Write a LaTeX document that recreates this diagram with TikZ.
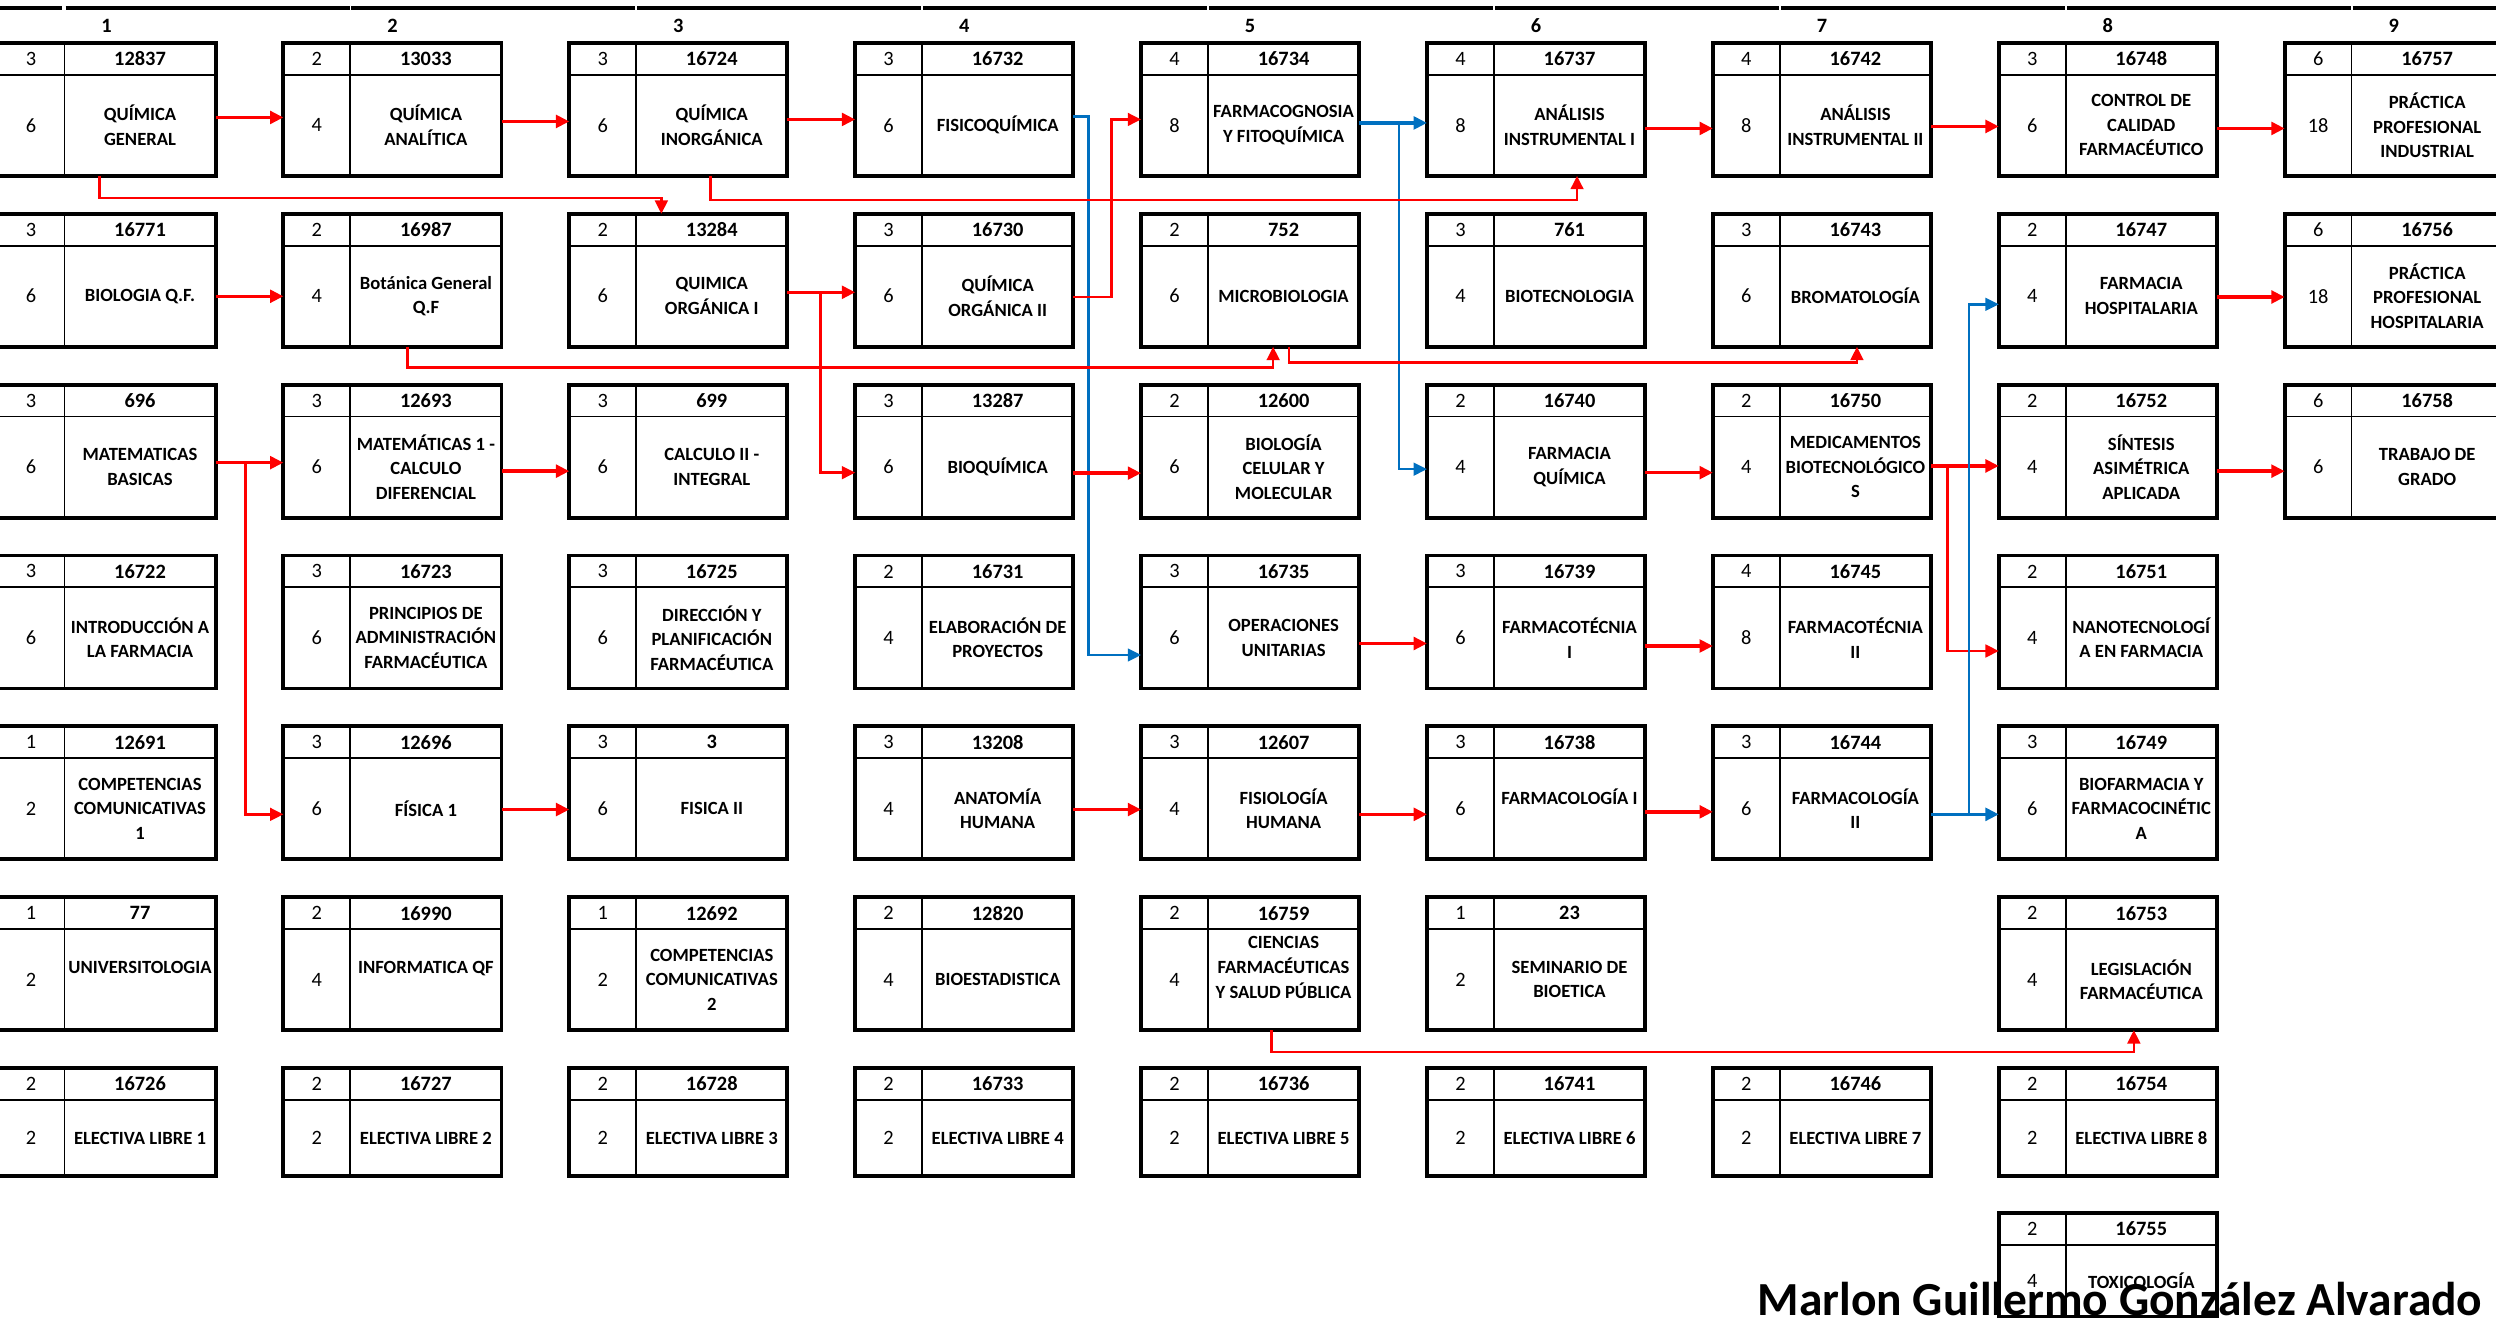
\documentclass[tikz,border=0pt]{standalone}
\usepackage{fontspec}
\setmainfont{Carlito}
\usetikzlibrary{arrows.meta}
\definecolor{arrowred}{RGB}{255,0,0}
\definecolor{arrowblue}{RGB}{0,112,192}

\begin{document}
\begin{tikzpicture}[
    cbox/.style={draw, line width=1.1pt, anchor=north west, minimum width=2.181cm, inner sep=0pt, outer sep=0pt},
    cellrule/.style={line width=0.5pt},
    toprule/.style={line width=1pt},
    numtext/.style={font=\fontsize{5.8}{7}\selectfont, inner sep=0pt},
    codetext/.style={font=\bfseries\fontsize{5.8}{7}\selectfont, inner sep=0pt},
    titletext/.style={font=\bfseries\fontsize{5.3}{7}\selectfont, align=center, inner sep=0pt},
    collabel/.style={font=\bfseries\fontsize{5.8}{7}\selectfont, inner sep=0pt},
    redarr/.style={draw=arrowred, line width=0.95pt, -{Triangle[length=3.8pt,width=3.6pt]}},
    redroute/.style={redarr, line width=0.75pt},
    bluearr/.style={draw=arrowblue, line width=0.95pt, -{Triangle[length=3.8pt,width=3.6pt]}},
    blueroute/.style={bluearr, line width=0.7pt}
  ]
  \useasboundingbox (0,0) rectangle (24.96,-13.40);

  % Grid measures (cm)
  \pgfmathsetmacro{\colGap}{2.859}
  \pgfmathsetmacro{\rowGap}{1.7085}
  \pgfmathsetmacro{\boxW}{2.181}
  \pgfmathsetmacro{\leftW}{0.669}
  \pgfmathsetmacro{\headH}{0.318}
  \pgfmathsetmacro{\boxH}{1.329}

  % One course box: credits | code on top, hours | title below
  \newcommand{\course}[7]{% name, column, row, credits, code, hours, title
    \pgfmathsetmacro{\posX}{-0.025 + (#2-1)*\colGap}
    \pgfmathsetmacro{\posY}{-0.43 - (#3-1)*\rowGap}
    \node[cbox, minimum height=\boxH cm] (#1) at (\posX,\posY) {};
    \draw[cellrule] (\posX,\posY-\headH) -- ++(\boxW,0);
    \draw[cellrule] (\posX+\leftW,\posY) -- ++(0,-\boxH);
    \node[numtext] (#1-cr) at (\posX+\leftW/2,\posY-\headH/2) {#4};
    \node[codetext] (#1-code) at (\posX+\leftW/2+\boxW/2,\posY-\headH/2) {#5};
    \node[numtext] (#1-hr) at (\posX+\leftW/2,\posY-\headH/2-\boxH/2) {#6};
    \node[titletext] (#1-title) at (\posX+\leftW/2+\boxW/2,\posY-\headH/2-\boxH/2) {#7};
  }

  % Top rule and semester numbers
  \draw[toprule] (0,-0.08) -- (0.62,-0.08);
  \foreach \k in {0,...,8} {
    \draw[toprule] (0.655+\k*\colGap,-0.08) -- ++(2.84,0);
    \pgfmathtruncatemacro{\sem}{\k+1}
    \node[collabel] (sem-\sem) at (-0.025+\k*\colGap+\boxW/2,-0.255) {\sem};
  }

  % Row 1
  \course{qgen}{1}{1}{3}{12837}{6}{QUÍMICA\\GENERAL}
  \course{qanal}{2}{1}{2}{13033}{4}{QUÍMICA\\ANALÍTICA}
  \course{qinorg}{3}{1}{3}{16724}{6}{QUÍMICA\\INORGÁNICA}
  \course{fisico}{4}{1}{3}{16732}{6}{FISICOQUÍMICA}
  \course{farmacog}{5}{1}{4}{16734}{8}{FARMACOGNOSIA\\Y FITOQUÍMICA}
  \course{analisisi}{6}{1}{4}{16737}{8}{ANÁLISIS\\INSTRUMENTAL I}
  \course{analisisii}{7}{1}{4}{16742}{8}{ANÁLISIS\\INSTRUMENTAL II}
  \course{control}{8}{1}{3}{16748}{6}{CONTROL DE\\CALIDAD\\FARMACÉUTICO}
  \course{practind}{9}{1}{6}{16757}{18}{PRÁCTICA\\PROFESIONAL\\INDUSTRIAL}

  % Row 2
  \course{bioqf}{1}{2}{3}{16771}{6}{BIOLOGIA Q.F.}
  \course{botanica}{2}{2}{2}{16987}{4}{Botánica General\\Q.F}
  \course{qorgi}{3}{2}{2}{13284}{6}{QUIMICA\\ORGÁNICA I}
  \course{qorgii}{4}{2}{3}{16730}{6}{QUÍMICA\\ORGÁNICA II}
  \course{micro}{5}{2}{2}{752}{6}{MICROBIOLOGIA}
  \course{biotec}{6}{2}{3}{761}{4}{BIOTECNOLOGIA}
  \course{bromat}{7}{2}{3}{16743}{6}{BROMATOLOGÍA}
  \course{farmhosp}{8}{2}{2}{16747}{4}{FARMACIA\\HOSPITALARIA}
  \course{practhosp}{9}{2}{6}{16756}{18}{PRÁCTICA\\PROFESIONAL\\HOSPITALARIA}

  % Row 3
  \course{matbas}{1}{3}{3}{696}{6}{MATEMATICAS\\BASICAS}
  \course{mat1}{2}{3}{3}{12693}{6}{MATEMÁTICAS 1 -\\CALCULO\\DIFERENCIAL}
  \course{calc2}{3}{3}{3}{699}{6}{CALCULO II -\\INTEGRAL}
  \course{bioquim}{4}{3}{3}{13287}{6}{BIOQUÍMICA}
  \course{biocel}{5}{3}{2}{12600}{6}{BIOLOGÍA\\CELULAR Y\\MOLECULAR}
  \course{farmqui}{6}{3}{2}{16740}{4}{FARMACIA\\QUÍMICA}
  \course{medbio}{7}{3}{2}{16750}{4}{MEDICAMENTOS\\BIOTECNOLÓGICO\\S}
  \course{sintesis}{8}{3}{2}{16752}{4}{SÍNTESIS\\ASIMÉTRICA\\APLICADA}
  \course{trabajo}{9}{3}{6}{16758}{6}{TRABAJO DE\\GRADO}

  % Row 4
  \course{intro}{1}{4}{3}{16722}{6}{INTRODUCCIÓN A\\LA FARMACIA}
  \course{princadm}{2}{4}{3}{16723}{6}{PRINCIPIOS DE\\ADMINISTRACIÓN\\FARMACÉUTICA}
  \course{direccion}{3}{4}{3}{16725}{6}{DIRECCIÓN Y\\PLANIFICACIÓN\\FARMACÉUTICA}
  \course{elabproy}{4}{4}{2}{16731}{4}{ELABORACIÓN DE\\PROYECTOS}
  \course{opunit}{5}{4}{3}{16735}{6}{OPERACIONES\\UNITARIAS}
  \course{farmteci}{6}{4}{3}{16739}{6}{FARMACOTÉCNIA\\I}
  \course{farmtecii}{7}{4}{4}{16745}{8}{FARMACOTÉCNIA\\II}
  \course{nanotec}{8}{4}{2}{16751}{4}{NANOTECNOLOGÍ\\A EN FARMACIA}

  % Row 5
  \course{compi}{1}{5}{1}{12691}{2}{COMPETENCIAS\\COMUNICATIVAS\\1}
  \course{fisicai}{2}{5}{3}{12696}{6}{FÍSICA 1}
  \course{fisicaii}{3}{5}{3}{3}{6}{FISICA II}
  \course{anatomia}{4}{5}{3}{13208}{4}{ANATOMÍA\\HUMANA}
  \course{fisiologia}{5}{5}{3}{12607}{4}{FISIOLOGÍA\\HUMANA}
  \course{farmacoi}{6}{5}{3}{16738}{6}{FARMACOLOGÍA I\\\mbox{}}
  \course{farmacoii}{7}{5}{3}{16744}{6}{FARMACOLOGÍA\\II}
  \course{biofarm}{8}{5}{3}{16749}{6}{BIOFARMACIA Y\\FARMACOCINÉTIC\\A}

  % Row 6
  \course{univ}{1}{6}{1}{77}{2}{UNIVERSITOLOGIA\\\mbox{}}
  \course{informatica}{2}{6}{2}{16990}{4}{INFORMATICA QF\\\mbox{}}
  \course{compii}{3}{6}{1}{12692}{2}{COMPETENCIAS\\COMUNICATIVAS\\2}
  \course{bioest}{4}{6}{2}{12820}{4}{BIOESTADISTICA}
  \course{ciencias}{5}{6}{2}{16759}{4}{CIENCIAS\\FARMACÉUTICAS\\Y SALUD PÚBLICA\\\mbox{}}
  \course{seminario}{6}{6}{1}{23}{2}{SEMINARIO DE\\BIOETICA}
  \course{legis}{8}{6}{2}{16753}{4}{LEGISLACIÓN\\FARMACÉUTICA}

  % Row 7: electives (lower boxes)
  \pgfmathsetmacro{\boxH}{1.082}
  \course{electa}{1}{7}{2}{16726}{2}{ELECTIVA LIBRE 1}
  \course{electb}{2}{7}{2}{16727}{2}{ELECTIVA LIBRE 2}
  \course{electc}{3}{7}{2}{16728}{2}{ELECTIVA LIBRE 3}
  \course{electd}{4}{7}{2}{16733}{2}{ELECTIVA LIBRE 4}
  \course{electe}{5}{7}{2}{16736}{2}{ELECTIVA LIBRE 5}
  \course{electf}{6}{7}{2}{16741}{2}{ELECTIVA LIBRE 6}
  \course{electg}{7}{7}{2}{16746}{2}{ELECTIVA LIBRE 7}
  \course{electh}{8}{7}{2}{16754}{2}{ELECTIVA LIBRE 8}

  % Last one, under the name
  \pgfmathsetmacro{\boxH}{1.035}
  \course{toxico}{8}{7.848}{2}{16755}{4}{TOXICOLOGÍA}

  % Prerequisites, row 1
  \draw[redarr] ([yshift=-0.08cm]qgen.east) -- ([yshift=-0.08cm]qanal.west);
  \draw[redarr] ([yshift=-0.12cm]qanal.east) -- ([yshift=-0.12cm]qinorg.west);
  \draw[redarr] ([yshift=-0.10cm]qinorg.east) -- ([yshift=-0.10cm]fisico.west);
  \draw[blueroute] ([yshift=-0.07cm]fisico.east) -- ++(0.15,0) |- ([yshift=-0.33cm]opunit.west);
  \draw[bluearr] ([yshift=-0.135cm]farmacog.east) -- ([yshift=-0.135cm]analisisi.west);
  \draw[blueroute] ([xshift=0.4cm,yshift=-0.135cm]farmacog.east) |- ([yshift=-0.18cm]farmqui.west);
  \draw[redarr] ([yshift=-0.19cm]analisisi.east) -- ([yshift=-0.19cm]analisisii.west);
  \draw[redarr] ([yshift=-0.17cm]analisisii.east) -- ([yshift=-0.17cm]control.west);
  \draw[redarr] ([yshift=-0.19cm]control.east) -- ([yshift=-0.19cm]practind.west);
  \draw[redroute] ([xshift=-0.07cm]qgen.south) -- ++(0,-0.22) -| ([xshift=-0.17cm]qorgi.north);
  \draw[redroute] ([xshift=0.32cm]qinorg.south) -- ++(0,-0.24) -| ([xshift=0.41cm]analisisi.south);

  % row 2
  \draw[redarr] ([yshift=-0.16cm]bioqf.east) -- ([yshift=-0.16cm]botanica.west);
  \draw[redarr] ([yshift=-0.12cm]qorgi.east) -- ([yshift=-0.12cm]qorgii.west);
  \draw[redroute] ([xshift=0.33cm,yshift=-0.12cm]qorgi.east) |- ([yshift=-0.215cm]bioquim.west);
  \draw[redroute] ([yshift=-0.167cm]qorgii.east) -- ++(0.38,0) |- ([yshift=-0.10cm]farmacog.west);
  \draw[redroute] ([xshift=0.15cm]botanica.south) -- ++(0,-0.21) -| ([xshift=0.23cm]micro.south);
  \draw[redroute] ([xshift=0.39cm]micro.south) -- ++(0,-0.16) -| ([xshift=0.35cm]bromat.south);
  \draw[redarr] ([yshift=-0.167cm]farmhosp.east) -- ([yshift=-0.167cm]practhosp.west);

  % row 3
  \draw[redarr] ([yshift=-0.115cm]matbas.east) -- ([yshift=-0.115cm]mat1.west);
  \draw[redroute] ([xshift=0.30cm,yshift=-0.115cm]matbas.east) |- ([yshift=-0.215cm]fisicai.west);
  \draw[redarr] ([yshift=-0.2cm]mat1.east) -- ([yshift=-0.2cm]calc2.west);
  \draw[redarr] ([yshift=-0.22cm]bioquim.east) -- ([yshift=-0.22cm]biocel.west);
  \draw[redarr] ([yshift=-0.215cm]farmqui.east) -- ([yshift=-0.215cm]medbio.west);
  \draw[redarr] ([yshift=-0.148cm]medbio.east) -- ([yshift=-0.148cm]sintesis.west);
  \draw[redroute] ([xshift=0.167cm,yshift=-0.148cm]medbio.east) |- ([yshift=-0.29cm]nanotec.west);
  \draw[redarr] ([yshift=-0.2cm]sintesis.east) -- ([yshift=-0.2cm]trabajo.west);

  % row 4
  \draw[redarr] ([yshift=-0.215cm]opunit.east) -- ([yshift=-0.215cm]farmteci.west);
  \draw[redarr] ([yshift=-0.24cm]farmteci.east) -- ([yshift=-0.24cm]farmtecii.west);

  % row 5
  \draw[redarr] ([yshift=-0.167cm]fisicai.east) -- ([yshift=-0.167cm]fisicaii.west);
  \draw[redarr] ([yshift=-0.167cm]anatomia.east) -- ([yshift=-0.167cm]fisiologia.west);
  \draw[redarr] ([yshift=-0.215cm]fisiologia.east) -- ([yshift=-0.215cm]farmacoi.west);
  \draw[redarr] ([yshift=-0.19cm]farmacoi.east) -- ([yshift=-0.19cm]farmacoii.west);
  \draw[bluearr] ([yshift=-0.215cm]farmacoii.east) -- ([yshift=-0.215cm]biofarm.west);
  \draw[blueroute] ([xshift=0.38cm,yshift=-0.215cm]farmacoii.east) |- ([yshift=-0.24cm]farmhosp.west);

  % row 6
  \draw[redroute] ([xshift=0.215cm]ciencias.south) -- ++(0,-0.22) -| ([xshift=0.26cm]legis.south);

  % Author
  \node[font=\bfseries\fontsize{13.5}{16}\selectfont, anchor=base east, inner sep=0pt] (author) at (24.83,-13.15) {Marlon Guillermo González Alvarado};
\end{tikzpicture}
\end{document}
